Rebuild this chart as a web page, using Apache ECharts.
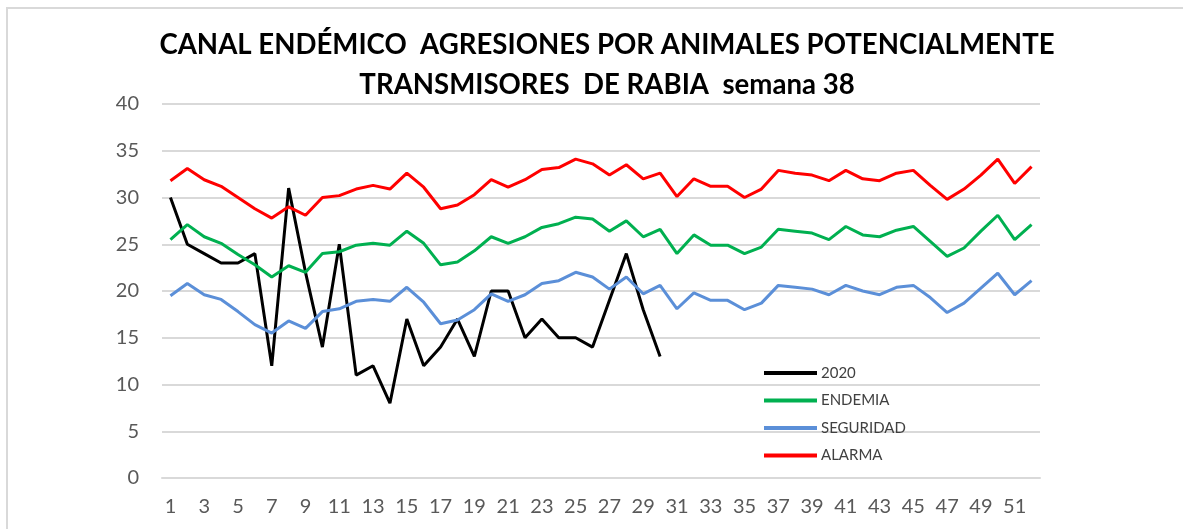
<!DOCTYPE html>
<html lang="es">
<head>
    <meta charset="UTF-8">
    <title>Canal endémico</title>
    <script type="text/javascript" src="https://cdn.jsdelivr.net/npm/echarts@6/dist/echarts.min.js"></script>
    <style>
        html, body { margin: 0; padding: 0; background: #fff; }
        #main { width: 1183px; height: 529px; }
    </style>
</head>
<body>
<div id="main"></div>
<script type="text/javascript">

    // semanas 1..52
    var semanas = [];
    for (let i = 1; i <= 52; i++) { semanas.push(String(i)); }

    var casos2020 = [30, 25, 24, 23, 23, 24, 12, 31, 22, 14,
                     25, 11, 12, 8, 17, 12, 14, 17, 13, 20,
                     20, 15, 17, 15, 15, 14, 19, 24, 18, 13];

    var endemia = [25.5, 27.1, 25.8, 25.1, 23.9, 22.8, 21.5, 22.7, 22.0, 24.0,
                   24.2, 24.9, 25.1, 24.9, 26.4, 25.1, 22.8, 23.1, 24.3, 25.8,
                   25.1, 25.8, 26.8, 27.2, 27.9, 27.7, 26.4, 27.5, 25.8, 26.6,
                   24.0, 26.0, 24.9, 24.9, 24.0, 24.7, 26.6, 26.4, 26.2, 25.5,
                   26.9, 26.0, 25.8, 26.5, 26.9, 25.3, 23.7, 24.6, 26.4, 28.1,
                   25.5, 27.1];

    var seguridad = [19.5, 20.8, 19.6, 19.1, 17.8, 16.4, 15.5, 16.8, 16.0, 17.8,
                     18.1, 18.9, 19.1, 18.9, 20.4, 18.8, 16.5, 16.9, 18.0, 19.7,
                     18.9, 19.6, 20.8, 21.1, 22.0, 21.5, 20.2, 21.5, 19.7, 20.6,
                     18.1, 19.8, 19.0, 19.0, 18.0, 18.7, 20.6, 20.4, 20.2, 19.6,
                     20.6, 20.0, 19.6, 20.4, 20.6, 19.3, 17.7, 18.7, 20.3, 21.9,
                     19.6, 21.1];

    var alarma = [31.8, 33.1, 31.9, 31.2, 30.0, 28.8, 27.8, 29.0, 28.1, 30.0,
                  30.2, 30.9, 31.3, 30.9, 32.6, 31.1, 28.8, 29.2, 30.3, 31.9,
                  31.1, 31.9, 33.0, 33.2, 34.1, 33.6, 32.4, 33.5, 32.0, 32.6,
                  30.1, 32.0, 31.2, 31.2, 30.0, 30.9, 32.9, 32.6, 32.4, 31.8,
                  32.9, 32.0, 31.8, 32.6, 32.9, 31.3, 29.8, 30.9, 32.4, 34.1,
                  31.5, 33.3];

    var yTicks = { min: 0, max: 40, interval: 5 };

    var fuente = 'Lato, "Liberation Sans", sans-serif';

    function linea(nombre, datos, color) {
        return {
            name: nombre,
            type: 'line',
            data: datos,
            symbol: 'none',
            smooth: false,
            lineStyle: { color: color, width: 3 },
            itemStyle: { color: color }
        };
    }

    var myChart = echarts.init(document.getElementById('main'), null, { renderer: 'canvas' });

    var option = {
        backgroundColor: '#ffffff',
        animation: false,
        title: {
            text: 'CANAL ENDÉMICO  AGRESIONES POR ANIMALES POTENCIALMENTE\nTRANSMISORES  DE RABIA  semana 38',
            left: 602,
            top: 20,
            textAlign: 'center',
            textStyle: {
                fontFamily: fuente,
                fontSize: 27.6,
                fontWeight: 'bold',
                color: '#000000',
                lineHeight: 40
            }
        },
        graphic: [{
            type: 'rect',
            z: -10,
            shape: { x: 7, y: 8, width: 1200, height: 560 },
            style: { fill: 'none', stroke: '#d9d9d9', lineWidth: 2 }
        }],
        legend: {
            orient: 'vertical',
            left: 764,
            top: 365,
            padding: 0,
            icon: 'rect',
            itemWidth: 53,
            itemHeight: 4,
            itemGap: 11.5,
            textStyle: {
                fontFamily: fuente,
                fontSize: 15,
                color: '#404040',
                lineHeight: 16,
                padding: [0, 0, 0, -1]
            },
            data: ['2020', 'ENDEMIA', 'SEGURIDAD', 'ALARMA']
        },
        grid: {
            left: 162,
            right: 143,
            top: 104,
            bottom: 51,
            containLabel: false
        },
        xAxis: {
            type: 'category',
            boundaryGap: true,
            data: semanas,
            axisLine: { show: true, lineStyle: { color: '#d9d9d9', width: 2 } },
            axisTick: { show: false },
            splitLine: { show: false },
            axisLabel: {
                interval: 1,
                margin: 19,
                fontFamily: fuente,
                fontSize: 20,
                color: '#595959'
            }
        },
        yAxis: {
            type: 'value',
            min: yTicks.min,
            max: yTicks.max,
            interval: yTicks.interval,
            axisLine: { show: false },
            axisTick: { show: false },
            splitLine: { lineStyle: { color: '#d9d9d9', width: 2 } },
            axisLabel: {
                margin: 23,
                fontFamily: fuente,
                fontSize: 20,
                color: '#595959'
            }
        },
        series: [
            linea('2020', casos2020, '#000000'),
            linea('ENDEMIA', endemia, '#00b050'),
            linea('SEGURIDAD', seguridad, '#5b8fd8'),
            linea('ALARMA', alarma, '#ff0000')
        ]
    };

    myChart.setOption(option);
</script>
</body>
</html>
